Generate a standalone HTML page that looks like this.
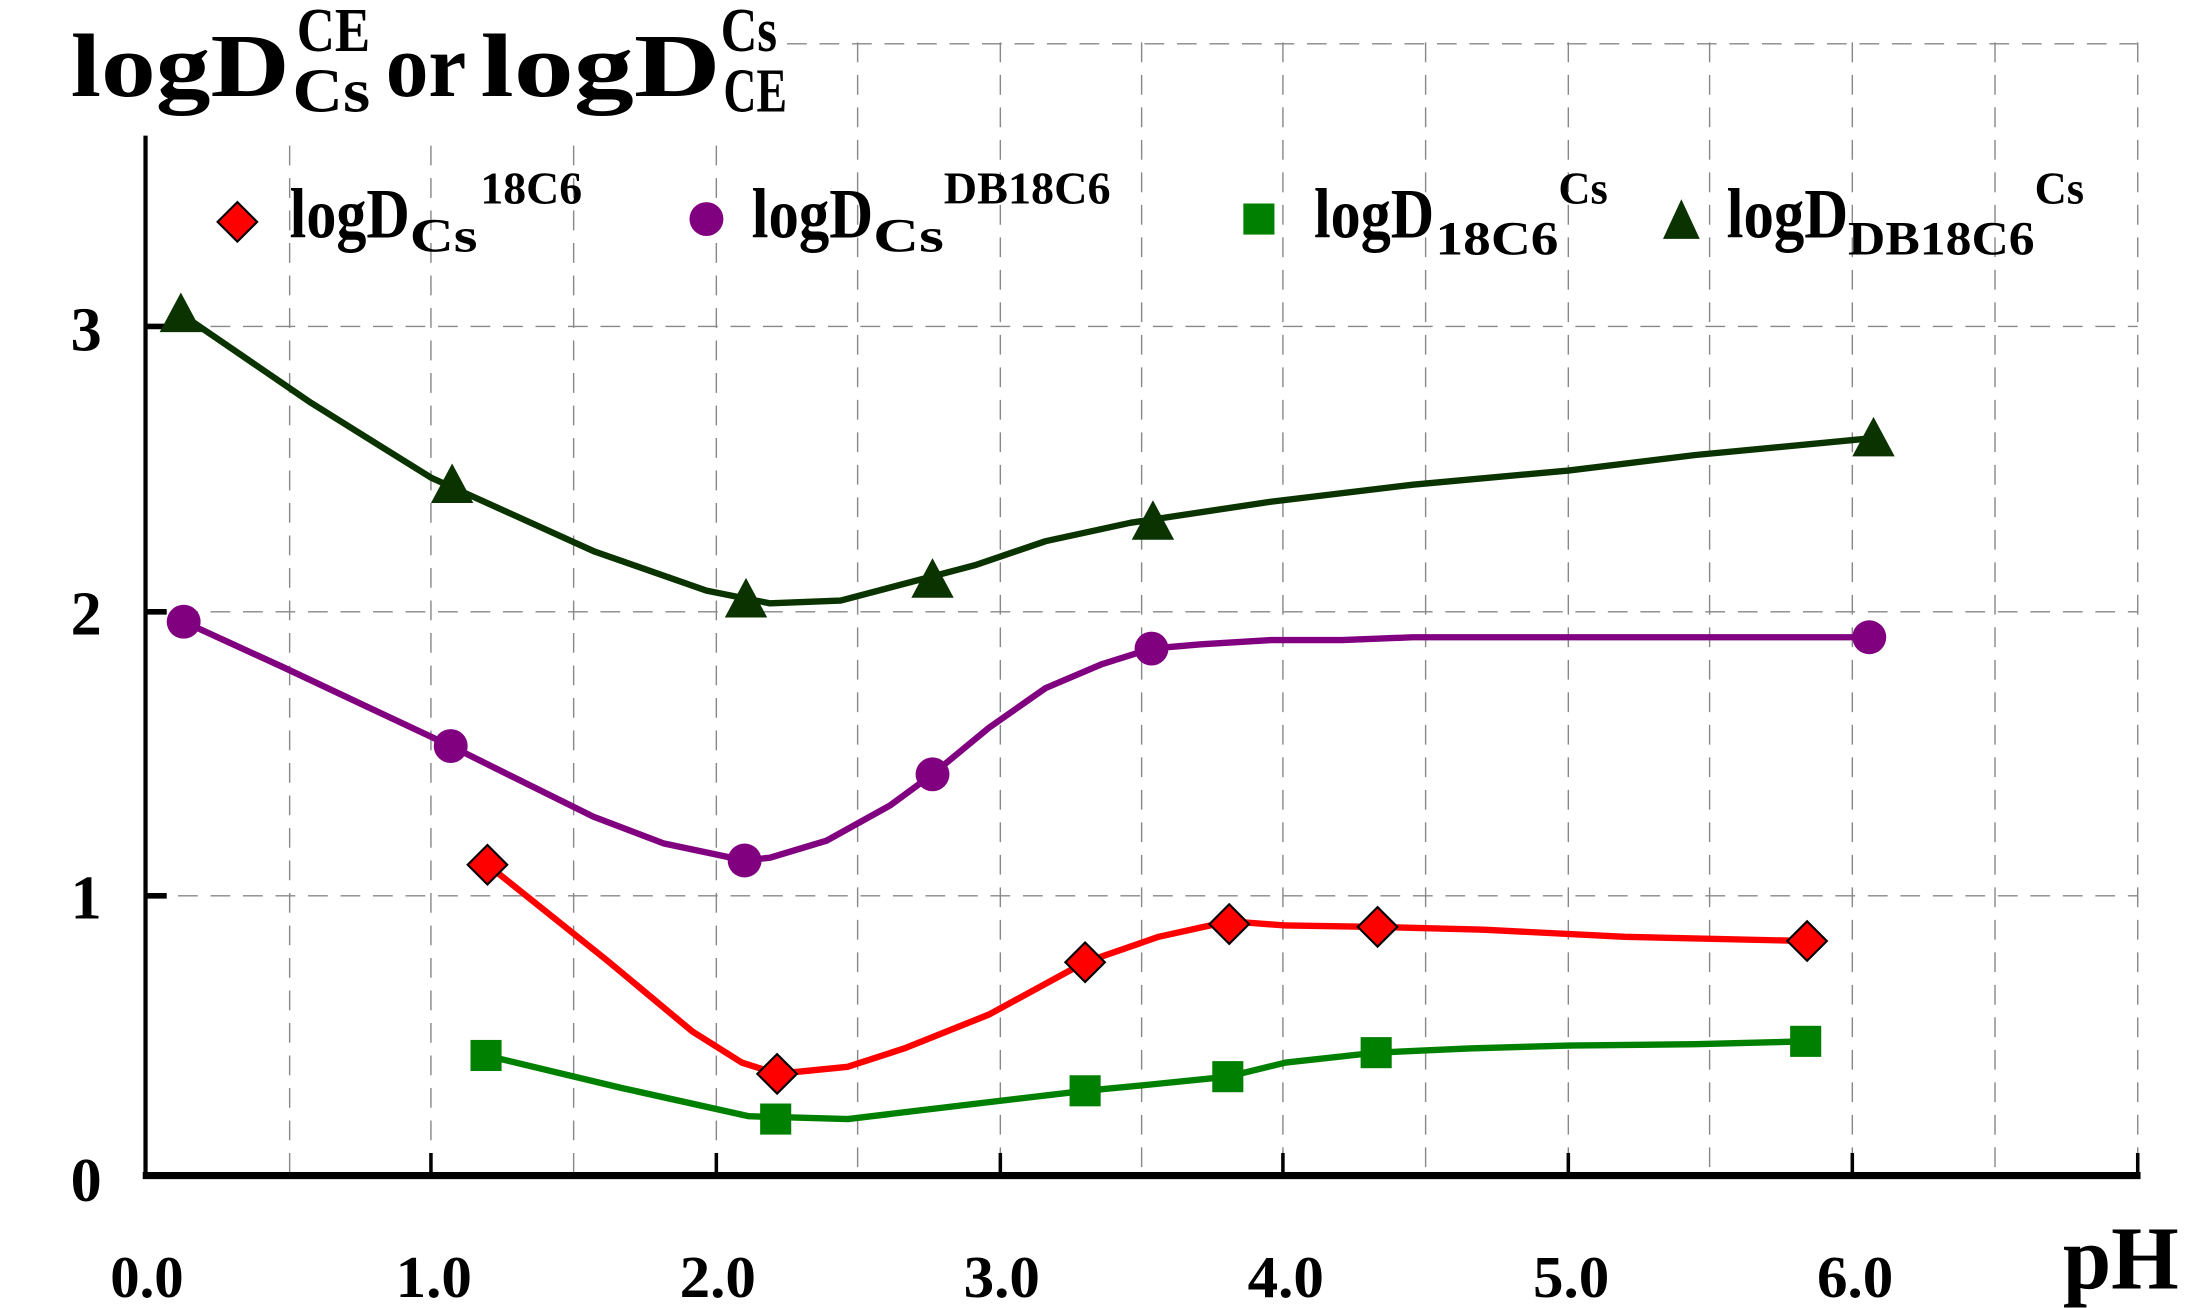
<!DOCTYPE html>
<html><head><style>html,body{margin:0;padding:0;background:#fff}svg{display:block}svg text{font-family:"Liberation Serif","Times New Roman",serif;font-weight:bold}</style></head>
<body>
<svg width="2190" height="1308" viewBox="0 0 1550 925.7" xmlns="http://www.w3.org/2000/svg">
<rect width="1550" height="926" fill="#fff"/>
<g stroke="#888" stroke-width="1" stroke-dasharray="14,9" fill="none">
<line x1="205" y1="103" x2="205" y2="832"/>
<line x1="305" y1="103" x2="305" y2="832"/>
<line x1="406" y1="103" x2="406" y2="832"/>
<line x1="507" y1="103" x2="507" y2="832"/>
<line x1="607" y1="30" x2="607" y2="832"/>
<line x1="708" y1="30" x2="708" y2="832"/>
<line x1="808" y1="30" x2="808" y2="832"/>
<line x1="908" y1="30" x2="908" y2="832"/>
<line x1="1009" y1="30" x2="1009" y2="832"/>
<line x1="1110" y1="30" x2="1110" y2="832"/>
<line x1="1210" y1="30" x2="1210" y2="832"/>
<line x1="1311" y1="30" x2="1311" y2="832"/>
<line x1="1412" y1="30" x2="1412" y2="832"/>
<line x1="1513" y1="30" x2="1513" y2="832"/>
<line x1="557" y1="31" x2="1513" y2="31"/>
<line x1="103" y1="231" x2="1513" y2="231"/>
<line x1="103" y1="433" x2="1513" y2="433"/>
<line x1="103" y1="634" x2="1513" y2="634"/>
</g>
<g stroke="#000" fill="none">
<line x1="103" y1="96" x2="103" y2="834" stroke-width="3"/>
<line x1="101" y1="832" x2="1515" y2="832" stroke-width="5"/>
<g stroke-width="4">
<line x1="103" y1="231" x2="118" y2="231"/><line x1="103" y1="433" x2="118" y2="433"/><line x1="103" y1="634" x2="118" y2="634"/>
</g>
<g stroke-width="2.5">
<line x1="305" y1="816" x2="305" y2="832"/><line x1="507" y1="816" x2="507" y2="832"/><line x1="708" y1="816" x2="708" y2="832"/>
<line x1="908" y1="816" x2="908" y2="832"/><line x1="1110" y1="816" x2="1110" y2="832"/><line x1="1311" y1="816" x2="1311" y2="832"/><line x1="1513" y1="816" x2="1513" y2="832"/>
</g>
</g>
<g fill="none" stroke-width="4.5" stroke-linejoin="round">
<polyline stroke="#0a3300" points="128,222 220,285 305,338 420,390 500,418 545,427 595,425 690,400 740,383 800,370 900,355 1000,343 1110,333 1200,322 1326,310"/>
<polyline stroke="#800080" points="130,440 200,472 319,528 420,578 470,597 527,609 545,607 585,595 630,570 660,548 700,515 740,487 780,470 815,459 850,456 900,453 950,453 1000,451 1323,451"/>
<polyline stroke="#ff0000" points="345,612 430,680 490,730 525,752 550,760 600,755 640,742 700,718 768,681 820,663 870,652 910,655 975,656 1050,658 1150,663 1279,666"/>
<polyline stroke="#008000" points="344,747 440,770 530,790 600,792 700,780 768,772 810,768 869,762 910,752 974,745 1040,742 1110,740 1200,739 1278,737"/>
</g>
<g fill="#0a3300">
<polygon points="128,207 143,235 113,235"/><polygon points="320,328 335,356 305,356"/><polygon points="528,409 543,437 513,437"/>
<polygon points="660,395 675,423 645,423"/><polygon points="816,354 831,382 801,382"/><polygon points="1326,295 1341,323 1311,323"/>
<polygon points="1190,141 1203,169 1177,169"/>
</g>
<g fill="#800080">
<circle cx="130" cy="440" r="12"/><circle cx="319" cy="528" r="12"/><circle cx="527" cy="609" r="12"/>
<circle cx="660" cy="548" r="12"/><circle cx="815" cy="459" r="12"/><circle cx="1323" cy="451" r="12"/>
<circle cx="500" cy="155" r="12"/>
</g>
<g fill="#ff0000" stroke="#000" stroke-width="1.5">
<polygon points="345,598 359,612 345,626 331,612"/><polygon points="550,746 564,760 550,774 536,760"/><polygon points="768,667 782,681 768,695 754,681"/>
<polygon points="870,640 884,654 870,668 856,654"/><polygon points="975,642 989,656 975,670 961,656"/><polygon points="1279,652 1293,666 1279,680 1265,666"/>
<polygon points="168,143 182,157 168,171 154,157"/>
</g>
<g fill="#008000">
<rect x="333" y="736" width="22" height="22"/><rect x="538" y="781" width="22" height="22"/><rect x="757" y="761" width="22" height="22"/>
<rect x="858" y="751" width="22" height="22"/><rect x="963" y="734" width="22" height="22"/><rect x="1267" y="726" width="22" height="22"/>
<rect x="880" y="144" width="22" height="22"/>
</g>
<g fill="#000">
<text x="50" y="68" font-size="64" textLength="155" lengthAdjust="spacingAndGlyphs">logD</text>
<text x="207" y="79" font-size="44" textLength="55" lengthAdjust="spacingAndGlyphs">Cs</text>
<text x="210" y="36" font-size="44" textLength="52" lengthAdjust="spacingAndGlyphs">CE</text>
<text x="273" y="68" font-size="64" textLength="57" lengthAdjust="spacingAndGlyphs">or</text>
<text x="340" y="68" font-size="64" textLength="170" lengthAdjust="spacingAndGlyphs">logD</text>
<text x="512" y="79" font-size="44" textLength="45" lengthAdjust="spacingAndGlyphs">CE</text>
<text x="510" y="36" font-size="44" textLength="40" lengthAdjust="spacingAndGlyphs">Cs</text>

<text x="205" y="168" font-size="50" textLength="85" lengthAdjust="spacingAndGlyphs">logD</text>
<text x="290" y="178" font-size="34" textLength="48" lengthAdjust="spacingAndGlyphs">Cs</text>
<text x="340" y="144" font-size="32" textLength="72" lengthAdjust="spacingAndGlyphs">18C6</text>

<text x="532" y="168" font-size="50" textLength="86" lengthAdjust="spacingAndGlyphs">logD</text>
<text x="618" y="178" font-size="34" textLength="50" lengthAdjust="spacingAndGlyphs">Cs</text>
<text x="668" y="144" font-size="32" textLength="118" lengthAdjust="spacingAndGlyphs">DB18C6</text>

<text x="930" y="168" font-size="50" textLength="85" lengthAdjust="spacingAndGlyphs">logD</text>
<text x="1016" y="180" font-size="34" textLength="87" lengthAdjust="spacingAndGlyphs">18C6</text>
<text x="1103" y="144" font-size="32" textLength="35" lengthAdjust="spacingAndGlyphs">Cs</text>

<text x="1222" y="168" font-size="50" textLength="86" lengthAdjust="spacingAndGlyphs">logD</text>
<text x="1308" y="180" font-size="34" textLength="132" lengthAdjust="spacingAndGlyphs">DB18C6</text>
<text x="1440" y="144" font-size="32" textLength="35" lengthAdjust="spacingAndGlyphs">Cs</text>

<g font-size="44">
<text x="50" y="248" textLength="22" lengthAdjust="spacingAndGlyphs">3</text><text x="50" y="449" textLength="22" lengthAdjust="spacingAndGlyphs">2</text><text x="50" y="650" textLength="22" lengthAdjust="spacingAndGlyphs">1</text><text x="50" y="850" textLength="22" lengthAdjust="spacingAndGlyphs">0</text>
</g>
<g font-size="42">
<text x="78" y="918" textLength="52" lengthAdjust="spacingAndGlyphs">0.0</text><text x="280" y="918" textLength="54" lengthAdjust="spacingAndGlyphs">1.0</text><text x="481" y="918" textLength="54" lengthAdjust="spacingAndGlyphs">2.0</text><text x="682" y="918" textLength="54" lengthAdjust="spacingAndGlyphs">3.0</text>
<text x="883" y="918" textLength="54" lengthAdjust="spacingAndGlyphs">4.0</text><text x="1085" y="918" textLength="54" lengthAdjust="spacingAndGlyphs">5.0</text><text x="1286" y="918" textLength="54" lengthAdjust="spacingAndGlyphs">6.0</text>
</g>
<text x="1460" y="912" font-size="64" textLength="82" lengthAdjust="spacingAndGlyphs">pH</text>
</g>
</svg>
</body></html>
